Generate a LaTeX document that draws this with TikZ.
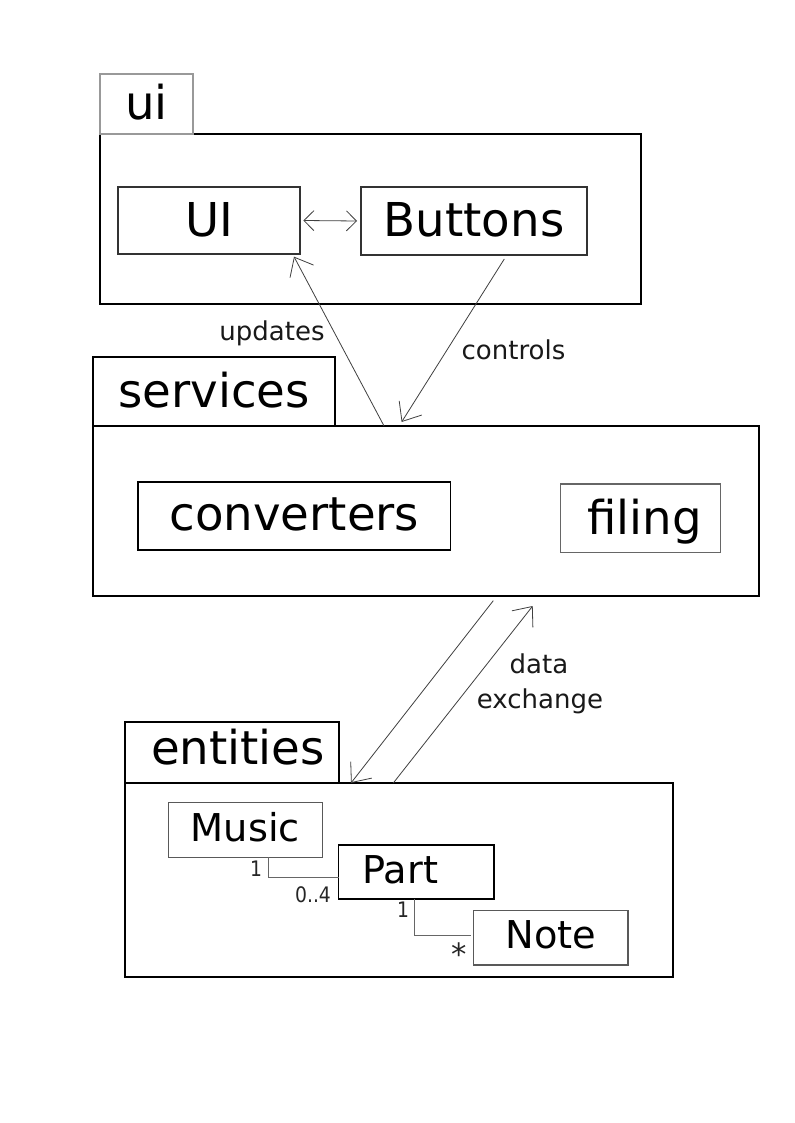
\documentclass[tikz,border=0pt]{standalone}
\usepackage{fontspec}
\setmainfont{DejaVu Sans}
\newfontfamily\condf[FakeStretch=0.88]{DejaVu Sans}
\usetikzlibrary{arrows.meta,calc}
\begin{document}
\begin{tikzpicture}[x=0.75pt,y=-0.75pt,
  pkg/.style={draw=black, line width=1.1pt, rectangle, inner sep=0pt, outer sep=0pt},
  tabbox/.style={pkg, font=\fontsize{35}{42}\selectfont, text depth=0pt},
  bigbox/.style={draw=black!80, line width=1pt, inner sep=0pt, outer sep=0pt, font=\fontsize{35}{42}\selectfont, text depth=0pt},
  cls/.style={draw=black!65, line width=0.9pt, inner sep=0pt, outer sep=0pt, font=\fontsize{28.75}{34}\selectfont, text depth=0pt},
  lbl/.style={inner sep=0pt, anchor=base, font=\fontsize{19.5}{24}\selectfont, text=black!90},
  mult/.style={inner sep=0pt, anchor=base, font=\condf\fontsize{16}{19}\selectfont, text=black!85},
  conn/.style={draw=black!60, line width=0.6pt},
  arr/.style={draw=black!75, line width=0.6pt, -{Straight Barb[length=12pt,width=20pt]}},
  dblarr/.style={draw=black!75, line width=0.6pt, {Straight Barb[length=7.5pt,width=15pt]}-{Straight Barb[length=7.5pt,width=15pt]}},
]
\fill[white] (0,0) rectangle (794,1123);
\useasboundingbox (0,0) rectangle (794,1123);

% ui package
\node[pkg, minimum width=405.75pt, minimum height=127.5pt] (uipkg) at (370.5,219) {};
\node[tabbox, draw=black!40, minimum width=69.75pt, minimum height=45pt, text height=24pt] (uitab) at (146.5,104) {ui};
\node[bigbox, minimum width=136.5pt, minimum height=50.25pt, text height=24.75pt] (UI) at (209,220.5) {UI};
\node[bigbox, minimum width=169.5pt, minimum height=51pt, text height=24pt] (Buttons) at (474,221) {Buttons};

% services package
\node[pkg, minimum width=499.5pt, minimum height=127.5pt] (servpkg) at (426,511) {};
\node[tabbox, minimum width=181.5pt, minimum height=51.75pt, text height=23.7pt] (servtab) at (214,391.5) {services};
\node[bigbox, draw=black, minimum width=234.45pt, minimum height=51pt, text height=21pt] (converters) at (294.3,516) {converters};
\node[bigbox, draw=black!60, minimum width=119.7pt, minimum height=51.5pt, text height=25pt] (filing) at (640.5,518.3) {\hspace*{6pt}filing};

% entities package
\node[pkg, minimum width=411pt, minimum height=145.5pt] (entpkg) at (399,880) {};
\node[tabbox, minimum width=160.5pt, minimum height=45.75pt, text height=17.7pt] (enttab) at (232,752.5) {\hspace*{9pt}entities};
\node[cls, minimum width=115.7pt, minimum height=40.95pt, text height=17.55pt] (Music) at (245.35,830) {Music};
\node[cls, draw=black, minimum width=116.55pt, minimum height=40.5pt, text height=16.95pt] (Part) at (416.3,872) {Part\hspace*{24pt}};
\node[cls, minimum width=115.7pt, minimum height=40.7pt, text height=15.7pt] (Note) at (550.8,937.85) {Note};

% connectors
\draw[dblarr] ([xshift=2.5pt]UI.east) -- ([xshift=-3pt]Buttons.west);
\draw[arr] ($(servpkg.north west)!0.437!(servpkg.north east)$) -- ([xshift=-4.5pt,yshift=-2pt]UI.south east);
\draw[arr] ($(Buttons.south west)!0.634!(Buttons.south east)+(0,4)$) -- ($(servpkg.north west)!0.4634!(servpkg.north east)+(0,-4)$);
\draw[arr] ($(servpkg.south west)!0.601!(servpkg.south east)+(0,4.7)$) -- ($(entpkg.north west)!0.4124!(entpkg.north east)$);
\draw[arr] ($(entpkg.north west)!0.4896!(entpkg.north east)$) -- ($(servpkg.south west)!0.6602!(servpkg.south east)+(0,10)$);
\draw[conn] ($(Music.south west)!0.648!(Music.south east)$) |- ($(Part.west)+(0,5)$);
\draw[conn] ($(Part.south west)!0.49!(Part.south east)$) |- ($(Note.west)+(-3,-2)$);

% labels
\node[lbl] (updL) at (272,340) {updates};
\node[lbl] (ctrlL) at (513.5,359.3) {controls};
\node[lbl] (dataL) at (539,673.3) {data};
\node[lbl] (exchL) at (540,708.3) {exchange};
\node[mult] (m1) at (256,876.7) {1};
\node[mult] (m04) at (313,902.3) {0..4};
\node[mult] (m2) at (403,917.7) {1};
\node[mult, anchor=north, font=\fontsize{23}{28}\selectfont] (mstar) at (459.3,942.3) {*};
\end{tikzpicture}
\end{document}
